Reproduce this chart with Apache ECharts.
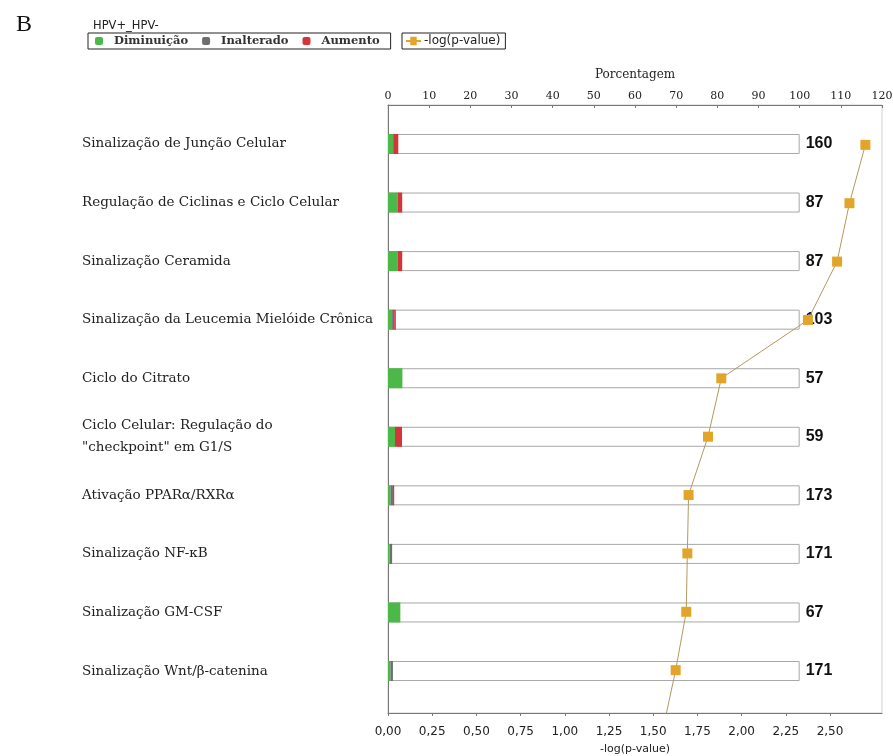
<!DOCTYPE html>
<html>
<head>
<meta charset="utf-8">
<script src="https://cdn.jsdelivr.net/npm/echarts@6/dist/echarts.min.js"></script>
<style>
  html, body { margin: 0; padding: 0; background: #fff; }
  #chart { width: 893px; height: 756px; }
</style>
</head>
<body>
<div id="chart"></div>
<script>
// Canonical pathways, HPV+ vs HPV-
const categories = [
  'Sinalização de Junção Celular',
  'Regulação de Ciclinas e Ciclo Celular',
  'Sinalização Ceramida',
  'Sinalização da Leucemia Mielóide Crônica',
  'Ciclo do Citrato',
  'Ciclo Celular: Regulação do\n"checkpoint" em G1/S',
  'Ativação PPARα/RXRα',
  'Sinalização NF-κB',
  'Sinalização GM-CSF',
  'Sinalização Wnt/β-catenina'
];
// percentage of pathway molecules per regulation class
const pctDown      = [1.25, 2.3, 2.3, 1.0, 3.5, 1.7, 0.6, 0.4, 3.0, 0.6];
const pctUnchanged = [0, 0, 0, 0.5, 0, 0, 0.6, 0.6, 0, 0.6];
const pctUp        = [1.25, 1.15, 1.15, 0.4, 0, 1.7, 0.3, 0, 0, 0];
// total molecules in each pathway
const totals = [160, 87, 87, 103, 57, 59, 173, 171, 67, 171];
// -log(p-value) per pathway
const logP = [2.70, 2.61, 2.54, 2.375, 1.885, 1.81, 1.70, 1.693, 1.687, 1.627];
// continuation of the curve toward the next (unlisted) pathway
const logPTail = 1.556;

// axis ranges and tick labels
const pctTicks = { min: 0, max: 120, interval: 10 };
const logRange = { min: 0, max: 2.794 };
const logTickValues = [0, 0.25, 0.5, 0.75, 1, 1.25, 1.5, 1.75, 2, 2.25, 2.5];

const serif = 'DejaVu Serif';
const sans = 'DejaVu Sans';

const chart = echarts.init(document.getElementById('chart'), null, { renderer: 'canvas' });

const lineData = logP.map((v, i) => [v, i]);
lineData.push({ value: [logPTail, categories.length], symbol: 'none' });

chart.setOption({
  animation: false,
  backgroundColor: '#fff',
  title: [
    { text: 'B', left: 11, top: 8, textStyle: { fontFamily: 'Liberation Serif', fontSize: 24, fontWeight: 'normal', color: '#111' } },
    { text: 'HPV+_HPV-', left: 88, top: 15, textStyle: { fontFamily: sans, fontSize: 11.5, fontWeight: 'normal', color: '#222' } }
  ],
  legend: [
    {
      data: ['Diminuição', 'Inalterado', 'Aumento'],
      left: 88, top: 33, orient: 'horizontal',
      borderColor: '#222', borderWidth: 1, padding: [2, 11, 2, 7],
      itemWidth: 8, itemHeight: 8, itemGap: 14,
      icon: 'roundRect',
      textStyle: { fontFamily: serif, fontSize: 11.5, fontWeight: 'bold', color: '#333', padding: [0, 0, 0, 6] }
    },
    {
      data: [{ name: '-log(p-value)', icon: 'path://M0,4 L4,4 L4,1 L10,1 L10,4 L14,4 L14,6 L10,6 L10,9 L4,9 L4,6 L0,6 Z' }],
      left: 402, top: 33,
      borderColor: '#222', borderWidth: 1, padding: [2, 5, 2, 4],
      itemWidth: 15, itemHeight: 9,
      textStyle: { fontFamily: sans, fontSize: 12, color: '#222', padding: [0, 0, 0, -2] }
    }
  ],
  grid: [
    // band area for the pathway rows
    { left: 388, right: 11, top: 114.7, bottom: 55.7, show: false, outerBoundsMode: 'none' },
    // plot frame carrying both visible value axes
    { left: 388, right: 11, top: 105, bottom: 43, show: true, borderColor: '#cfcfcf', borderWidth: 1, backgroundColor: 'transparent', outerBoundsMode: 'none' }
  ],
  xAxis: [
    {
      gridIndex: 1, type: 'value', position: 'top', ...pctTicks,
      name: 'Porcentagem', nameLocation: 'middle', nameGap: 24,
      nameTextStyle: { fontFamily: serif, fontSize: 12, color: '#222' },
      axisLine: { show: true, onZero: false, lineStyle: { color: '#777' } },
      axisTick: { show: true, inside: true, length: 3, lineStyle: { color: '#777' } },
      axisLabel: { fontFamily: serif, fontSize: 11, color: '#222', margin: 3 },
      splitLine: { show: false }
    },
    {
      gridIndex: 1, type: 'value', position: 'bottom', ...logRange,
      name: '-log(p-value)', nameLocation: 'middle', nameGap: 31,
      nameTextStyle: { fontFamily: sans, fontSize: 11, color: '#222' },
      axisLine: { show: true, onZero: false, lineStyle: { color: '#777' } },
      axisTick: { show: true, length: 3, customValues: logTickValues, lineStyle: { color: '#777' } },
      axisLabel: {
        fontFamily: sans, fontSize: 12, color: '#222', margin: 13,
        customValues: logTickValues,
        formatter: v => v.toFixed(2).replace('.', ',')
      },
      splitLine: { show: false }
    },
    { gridIndex: 0, type: 'value', ...pctTicks, show: false }
  ],
  yAxis: [
    {
      gridIndex: 0, type: 'category', data: categories, inverse: true,
      axisLine: { show: false }, axisTick: { show: false },
      axisLabel: {
        align: 'left', margin: 306, fontFamily: serif, fontSize: 13.5,
        color: '#222', lineHeight: 22
      }
    },
    {
      gridIndex: 1, type: 'value', inverse: true, min: -0.683, max: 9.734,
      axisLine: { show: true, onZero: false, lineStyle: { color: '#777' } },
      axisTick: { show: false }, axisLabel: { show: false }, splitLine: { show: false }
    }
  ],
  series: [
    {
      name: 'Diminuição', type: 'bar', stack: 'reg', xAxisIndex: 2, yAxisIndex: 0,
      barWidth: 20, data: pctDown, itemStyle: { color: '#4cb848' }, z: 3
    },
    {
      name: 'Inalterado', type: 'bar', stack: 'reg', xAxisIndex: 2, yAxisIndex: 0,
      barWidth: 20, data: pctUnchanged, itemStyle: { color: '#6e6e6e' }, z: 3
    },
    {
      name: 'Aumento', type: 'bar', stack: 'reg', xAxisIndex: 2, yAxisIndex: 0,
      barWidth: 20, data: pctUp, itemStyle: { color: '#d4343c' }, z: 3
    },
    {
      name: 'total', type: 'bar', xAxisIndex: 2, yAxisIndex: 0,
      barWidth: 20, barGap: '-100%',
      data: categories.map(() => 100),
      itemStyle: { color: '#fff', borderColor: '#a8a8a8', borderWidth: 1 },
      label: {
        show: true, position: 'right', distance: 6,
        formatter: p => String(totals[p.dataIndex]),
        fontFamily: 'Liberation Sans', fontWeight: 'bold', fontSize: 16, color: '#111'
      },
      z: 2
    },
    {
      name: '-log(p-value)', type: 'line', xAxisIndex: 1, yAxisIndex: 1,
      data: lineData, clip: true,
      symbol: 'rect', symbolSize: 10,
      itemStyle: { color: '#e2a52a' },
      lineStyle: { color: '#b3995e', width: 1 },
      z: 5
    }
  ]
});
</script>
</body>
</html>
